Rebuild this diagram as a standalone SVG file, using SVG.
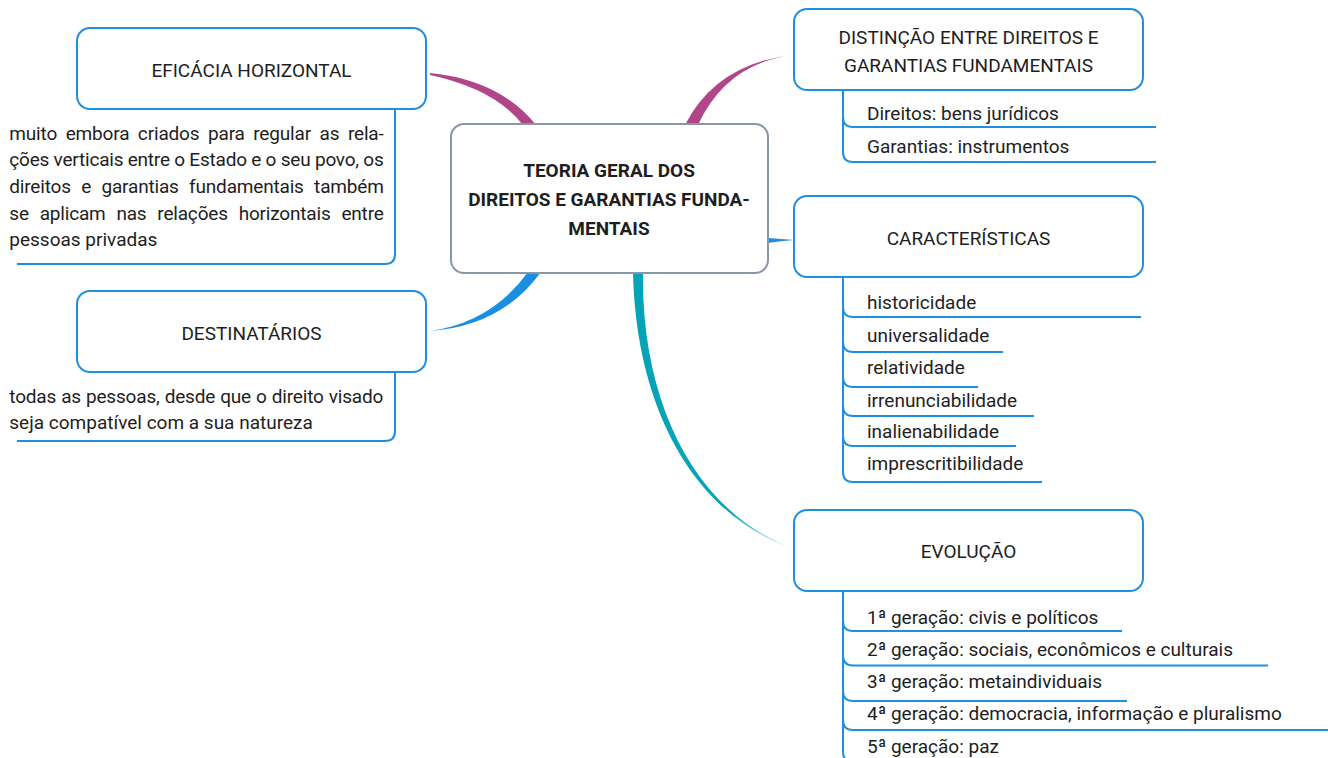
<svg xmlns="http://www.w3.org/2000/svg" width="1328" height="758" viewBox="0 0 1328 758">
<style>
.box{fill:#fff;stroke:#1f8fe0;stroke-width:2}
.central{fill:#fff;stroke:#8796ab;stroke-width:2}
.t{font-family:Roboto,"Liberation Sans",sans-serif;font-size:19px;fill:#1e1e1e}
.c{text-anchor:middle}
.b{font-weight:bold}
.br{fill:none;stroke:#1f8fe0;stroke-width:2}
</style>
<defs>
<linearGradient id="teal" gradientUnits="userSpaceOnUse" x1="638" y1="273" x2="792" y2="548">
<stop offset="0" stop-color="#05a3b7"/>
<stop offset="0.8" stop-color="#08a5b8"/>
<stop offset="1" stop-color="#c5edf2"/>
</linearGradient>
</defs>
<rect width="1328" height="758" fill="#fff"/>
<g id="connectors">
<path d="M430,73 Q500,80 536,125 L523,125 Q495,89 430,75 Z" fill="#b04689"/>
<path d="M685,125 Q716,64 792,55 Q726,64 698,125 Z" fill="#b04689"/>
<path d="M528,272 Q492,322 430,331 Q502,326 541,272 Z" fill="#1a8ee0"/>
<path d="M768,238 Q781,239 794,240 Q781,241 768,243 Z" fill="#1a8ee0"/>
<path d="M633,272 C636,410 695,515 792,548 C697,513 641,405 643,272 Z" fill="url(#teal)"/>
</g>
<g id="central">
<rect class="central" x="451" y="124" width="317" height="149" rx="13"/>
<text class="t c b" x="609" y="177">TEORIA GERAL DOS</text>
<text class="t c b" x="609" y="206">DIREITOS E GARANTIAS FUNDA-</text>
<text class="t c b" x="609" y="235">MENTAIS</text>
</g>
<g id="eficacia">
<rect class="box" x="77" y="28" width="349" height="81" rx="13"/>
<text class="t c" x="251.5" y="76.5">EFICÁCIA HORIZONTAL</text>
</g>
<g id="eficacia-text">
<path class="br" d="M395,109 V254 Q395,264 385,264 H17"/>
<text class="t" x="9.3" y="139.5" word-spacing="4" textLength="374.5" lengthAdjust="spacing">muito embora criados para regular as rela-</text>
<text class="t" x="9.3" y="166" textLength="374.5" lengthAdjust="spacing">ções verticais entre o Estado e o seu povo, os</text>
<text class="t" x="9.3" y="193" word-spacing="5.9" textLength="374.5" lengthAdjust="spacing">direitos e garantias fundamentais também</text>
<text class="t" x="9.3" y="219.5" word-spacing="6.3" textLength="374.5" lengthAdjust="spacing">se aplicam nas relações horizontais entre</text>
<text class="t" x="9.3" y="246">pessoas privadas</text>
</g>
<g id="destinatarios">
<rect class="box" x="77" y="291" width="349" height="81" rx="13"/>
<text class="t c" x="251.5" y="339.5">DESTINATÁRIOS</text>
</g>
<g id="destinatarios-text">
<path class="br" d="M395,372 V431 Q395,441 385,441 H17"/>
<text class="t" x="9.3" y="403" word-spacing="0.5" textLength="374" lengthAdjust="spacing">todas as pessoas, desde que o direito visado</text>
<text class="t" x="9.3" y="429">seja compatível com a sua natureza</text>
</g>
<g id="distincao">
<rect class="box" x="794" y="9" width="349" height="81" rx="13"/>
<text class="t c" x="968.5" y="43.5">DISTINÇÃO ENTRE DIREITOS E</text>
<text class="t c" x="968.5" y="72">GARANTIAS FUNDAMENTAIS</text>
</g>
<g id="distincao-items">
<path class="br" d="M843,90 V117 Q843,127 853,127 H1156"/>
<path class="br" d="M843,90 V152 Q843,162 853,162 H1156"/>
<text class="t" x="867" y="120">Direitos: bens jurídicos</text>
<text class="t" x="867" y="152.5">Garantias: instrumentos</text>
</g>
<g id="caracteristicas">
<rect class="box" x="794" y="196" width="349" height="81" rx="13"/>
<text class="t c" x="968.5" y="244.5">CARACTERÍSTICAS</text>
</g>
<g id="caracteristicas-items">
<path class="br" d="M843,277 V307 Q843,317 853,317 H1141"/>
<path class="br" d="M843,277 V342 Q843,352 853,352 H1003"/>
<path class="br" d="M843,277 V377 Q843,387 853,387 H978"/>
<path class="br" d="M843,277 V406 Q843,416 853,416 H1034"/>
<path class="br" d="M843,277 V436 Q843,446 853,446 H1016"/>
<path class="br" d="M843,277 V472 Q843,482 853,482 H1042"/>
<text class="t" x="867" y="309.3">historicidade</text>
<text class="t" x="867" y="341.7">universalidade</text>
<text class="t" x="867" y="373.5">relatividade</text>
<text class="t" x="867" y="406.5">irrenunciabilidade</text>
<text class="t" x="867" y="438.3">inalienabilidade</text>
<text class="t" x="867" y="470">imprescritibilidade</text>
</g>
<g id="evolucao">
<rect class="box" x="794" y="510" width="349" height="81" rx="13"/>
<text class="t c" x="968.5" y="557.5">EVOLUÇÃO</text>
</g>
<g id="evolucao-items">
<path class="br" d="M843,591 V621 Q843,631 853,631 H1122"/>
<path class="br" d="M843,591 V655.5 Q843,665.5 853,665.5 H1268"/>
<path class="br" d="M843,591 V691 Q843,701 853,701 H1127"/>
<path class="br" d="M843,591 V720 Q843,730 853,730 H1328"/>
<path class="br" d="M843,591 V752 Q843,762 853,762 H1040"/>
<text class="t" x="867" y="623.5">1ª geração: civis e políticos</text>
<text class="t" x="867" y="656">2ª geração: sociais, econômicos e culturais</text>
<text class="t" x="867" y="688">3ª geração: metaindividuais</text>
<text class="t" x="867" y="720.3">4ª geração: democracia, informação e pluralismo</text>
<text class="t" x="867" y="752.5">5ª geração: paz</text>
</g>
</svg>
